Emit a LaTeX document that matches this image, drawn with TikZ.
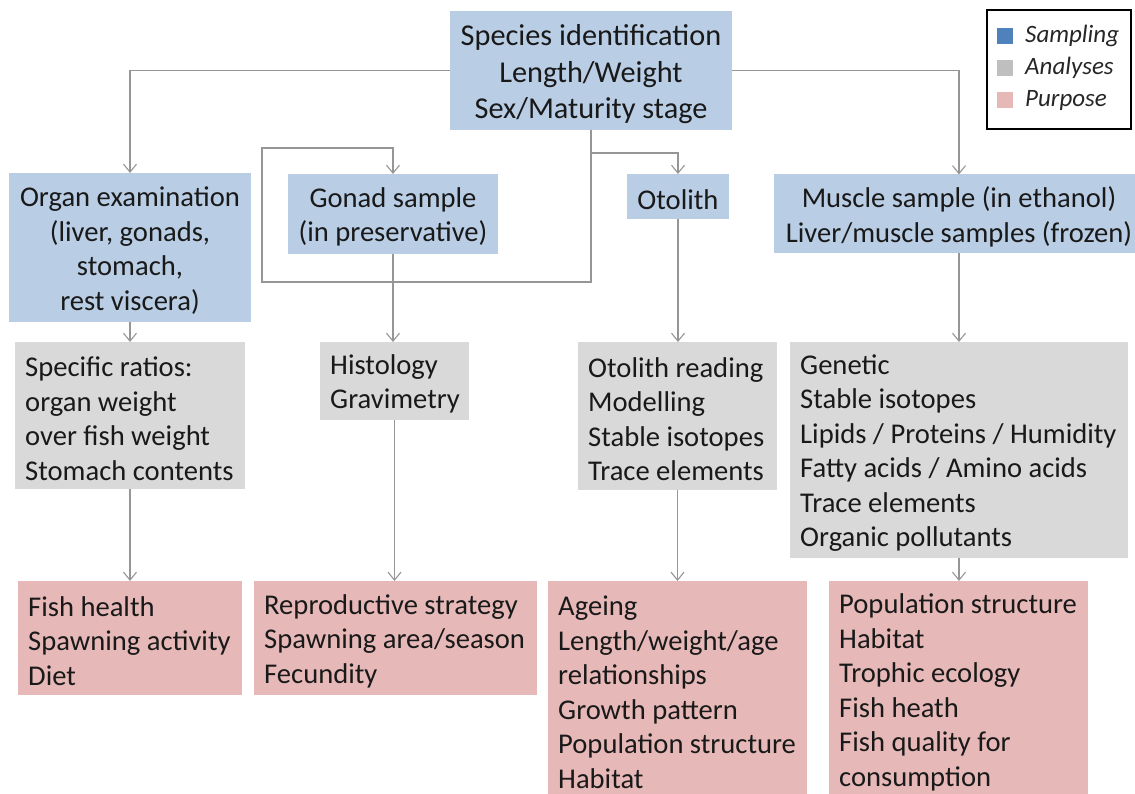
\documentclass[tikz,border=0pt]{standalone}
\usepackage{fontspec}
\setmainfont{Carlito}
\usetikzlibrary{arrows.meta}
\definecolor{sampfill}{RGB}{185,205,229}
\definecolor{analfill}{RGB}{217,217,217}
\definecolor{purpfill}{RGB}{230,185,184}
\definecolor{legblue}{RGB}{79,129,189}
\definecolor{leggray}{RGB}{191,191,191}
\definecolor{legpink}{RGB}{230,185,184}
\definecolor{linegray}{RGB}{150,150,150}
\begin{document}
\begin{tikzpicture}[x=1pt,y=-1pt,
  boxbase/.style={inner sep=0pt, outer sep=0pt},
  samp/.style={boxbase, fill=sampfill},
  anal/.style={boxbase, fill=analfill},
  purp/.style={boxbase, fill=purpfill},
  ctext/.style={inner sep=0pt, yshift=-3pt, align=center, font=\fontsize{28.6}{34.5}\selectfont, text=black!90},
  ltext/.style={inner sep=0pt, anchor=west, xshift=10pt, yshift=-3pt, align=flush left, font=\fontsize{28.6}{34.5}\selectfont, text=black!90},
  conn/.style={draw=linegray, line width=1.1pt},
  arr/.style={conn, -{Straight Barb[length=8pt,width=13pt]}},
  legsq/.style={inner sep=0pt, minimum size=16pt},
  legtxt/.style={anchor=west, inner sep=0pt, font=\fontsize{25}{30}\selectfont\itshape, text=black!85}
]
\useasboundingbox (0,0) rectangle (1135,794);

% Sampling
\node[samp, minimum width=282pt, minimum height=119pt,
  label={[ctext, yshift=-1pt, font=\fontsize{30.3}{36.5}\selectfont]center:{Species identification\\Length/Weight\\Sex/Maturity stage}}] (top) at (591,70.5) {};
\node[samp, minimum width=242pt, minimum height=149pt,
  label={[ctext]center:{Organ examination\\(liver, gonads,\\stomach,\\rest viscera)}}] (organ) at (130,247.5) {};
\node[samp, minimum width=210pt, minimum height=80pt,
  label={[ctext]center:{Gonad sample\\(in preservative)}}] (gonad) at (393,214) {};
\node[samp, minimum width=102pt, minimum height=45pt,
  label={[ctext]center:{Otolith}}] (otolith) at (678,196.5) {};
\node[samp, minimum width=370pt, minimum height=79pt,
  label={[ctext]center:{Muscle sample (in ethanol)\\Liver/muscle samples (frozen)}}] (muscle) at (959,214) {};

% Analyses
\node[anal, minimum width=230pt, minimum height=147pt,
  label={[ltext]west:{Specific ratios:\\organ weight\\over fish weight\\Stomach contents}}] (ratios) at (130,415.5) {};
\node[anal, minimum width=149pt, minimum height=78pt,
  label={[ltext]west:{Histology\\Gravimetry}}] (histo) at (394.5,381) {};
\node[anal, minimum width=199pt, minimum height=148pt,
  label={[ltext]west:{Otolith reading\\Modelling\\Stable isotopes\\Trace elements}}] (otoread) at (677.5,416) {};
\node[anal, minimum width=338pt, minimum height=216pt,
  label={[ltext]west:{Genetic\\Stable isotopes\\Lipids / Proteins / Humidity\\Fatty acids / Amino acids\\Trace elements\\Organic pollutants}}] (genetic) at (959,450) {};

% Purpose
\node[purp, minimum width=224pt, minimum height=114pt,
  label={[ltext]west:{Fish health\\Spawning activity\\Diet}}] (health) at (130,638) {};
\node[purp, minimum width=283pt, minimum height=114pt,
  label={[ltext]west:{Reproductive strategy\\Spawning area/season\\Fecundity}}] (repro) at (395.5,638) {};
\node[purp, minimum width=259pt, minimum height=224pt,
  label={[ltext, yshift=3.5pt]west:{Ageing\\Length/weight/age\\relationships\\Growth pattern\\Population structure\\Habitat}}] (ageing) at (677.5,693) {};
\node[purp, minimum width=259pt, minimum height=224pt,
  label={[ltext, yshift=3.5pt]west:{Population structure\\Habitat\\Trophic ecology\\Fish heath\\Fish quality for\\consumption}}] (pop) at (958.5,693) {};

% Legend
\node[draw=black, line width=2pt, inner sep=0pt, minimum width=144pt, minimum height=119pt] (legend) at (1059,70) {};
\node[legsq, fill=legblue] (sq1) at (1005,36) {};
\node[legsq, fill=leggray] (sq2) at (1005,68) {};
\node[legsq, fill=legpink] (sq3) at (1005,100) {};
\node[legtxt] (lt1) at (1025,36) {Sampling};
\node[legtxt] (lt2) at (1025,68) {Analyses};
\node[legtxt] (lt3) at (1025,100) {Purpose};

% Connectors
\coordinate (loopBL) at (262,282);
\coordinate (loopTL) at (262,148);
\coordinate (otoBranch) at (591,153);
\draw[arr] (top.west) -| (organ.north);
\draw[arr] (top.east) -| (muscle.north);
\draw[arr] (top.south) |- (loopBL) -- (loopTL) -| (gonad.north);
\draw[arr] (otoBranch) -| (otolith.north);

\draw[arr] (organ.south) -- (ratios.north);
\draw[arr] (gonad.south) -- (gonad.south |- histo.north);
\draw[arr] (otolith.south) -- (otolith.south |- otoread.north);
\draw[arr] (muscle.south) -- (muscle.south |- genetic.north);

\draw[arr] (ratios.south) -- (health.north);
\draw[arr] (histo.south) -- (histo.south |- repro.north);
\draw[arr] (otoread.south) -- (otoread.south |- ageing.north);
\draw[arr] (genetic.south) -- (genetic.south |- pop.north);
\end{tikzpicture}
\end{document}
